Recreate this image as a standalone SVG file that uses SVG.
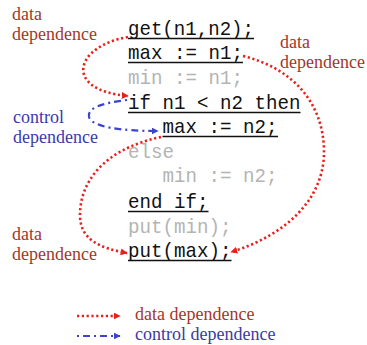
<svg xmlns="http://www.w3.org/2000/svg" width="367" height="345" viewBox="0 0 367 345">
<defs>
<style>
.code{font-family:"Liberation Mono","DejaVu Sans Mono",monospace;font-size:21px;white-space:pre}
.blk{fill:#111}
.gry{fill:#b4b4b4}
.ul{stroke:#111;stroke-width:1.6}
.lbl{font-family:"Liberation Serif","DejaVu Serif",serif;font-size:18px}
.red{fill:#a8342a}
.blu{fill:#3a3aa8}
.dd{fill:none;stroke:#e8201c;stroke-width:2.6;stroke-dasharray:2.2 2.6}
.cd{fill:none;stroke:#3a44cc;stroke-width:2.2;stroke-dasharray:2 4 7 4}
</style>
<marker id="ar" viewBox="0 0 10 10" refX="9" refY="5" markerWidth="7" markerHeight="7" markerUnits="userSpaceOnUse" orient="auto"><path d="M0,0L10,5L0,10z" fill="#e8201c"/></marker>
<marker id="ab" viewBox="0 0 10 10" refX="9" refY="5" markerWidth="7" markerHeight="7" markerUnits="userSpaceOnUse" orient="auto"><path d="M0,0L10,5L0,10z" fill="#3a44cc"/></marker>
</defs>
<rect width="367" height="345" fill="#fff"/>
<g id="code">
<g id="n-get"><text class="code blk" x="128" y="35" textLength="126" lengthAdjust="spacingAndGlyphs">get(n1,n2);</text><line class="ul" x1="128" y1="38.5" x2="254" y2="38.5"/></g>
<g id="n-max1"><text class="code blk" x="128" y="59" textLength="115" lengthAdjust="spacingAndGlyphs">max := n1;</text><line class="ul" x1="128" y1="62.5" x2="243" y2="62.5"/></g>
<g id="n-min1"><text class="code gry" x="128" y="84" textLength="115" lengthAdjust="spacingAndGlyphs">min := n1;</text></g>
<g id="n-if"><text class="code blk" x="128" y="109" textLength="172.5" lengthAdjust="spacingAndGlyphs">if n1 &lt; n2 then</text><line class="ul" x1="128" y1="112.5" x2="300.5" y2="112.5"/></g>
<g id="n-max2"><text class="code blk" x="162.5" y="133" textLength="115" lengthAdjust="spacingAndGlyphs">max := n2;</text><line class="ul" x1="162.5" y1="136.5" x2="278" y2="136.5"/></g>
<g id="n-else"><text class="code gry" x="128" y="158" textLength="46" lengthAdjust="spacingAndGlyphs">else</text></g>
<g id="n-min2"><text class="code gry" x="162.5" y="182" textLength="115" lengthAdjust="spacingAndGlyphs">min := n2;</text></g>
<g id="n-endif"><text class="code blk" x="128" y="208" textLength="80.5" lengthAdjust="spacingAndGlyphs">end if;</text><line class="ul" x1="128" y1="211.5" x2="208.5" y2="211.5"/></g>
<g id="n-putmin"><text class="code gry" x="128" y="232.5" textLength="103.5" lengthAdjust="spacingAndGlyphs">put(min);</text></g>
<g id="n-putmax"><text class="code blk" x="128" y="257" textLength="103.5" lengthAdjust="spacingAndGlyphs">put(max);</text><line class="ul" x1="128" y1="260.5" x2="231.5" y2="260.5"/></g>
</g>
<g id="labels">
<g id="l-data1"><text class="lbl red" x="12" y="20">data</text><text class="lbl red" x="12" y="39.5">dependence</text></g>
<g id="l-data2"><text class="lbl red" x="280" y="48">data</text><text class="lbl red" x="280" y="67.5">dependence</text></g>
<g id="l-ctrl"><text class="lbl blu" x="13" y="123">control</text><text class="lbl blu" x="13" y="142.5">dependence</text></g>
<g id="l-data3"><text class="lbl red" x="12" y="240">data</text><text class="lbl red" x="12" y="259.5">dependence</text></g>
</g>
<g id="connectors">
<path class="dd" d="M128,37 C75,46 62,90 128,96" marker-end="url(#ar)"/>
<path class="dd" d="M243,56 C292,68 323,102 324,150 C325,200 284,236 231,252" marker-end="url(#ar)"/>
<path class="dd" d="M161,137 C100,150 80,185 80,215 C80,240 100,248 127,253" marker-end="url(#ar)"/>
<path class="cd" d="M127,100 C102,103 87,108 89,117 C92,127 120,131 158,131" marker-end="url(#ab)"/>
</g>
<g id="legend">
<path class="dd" d="M77,316 L120,316" marker-end="url(#ar)"/>
<text class="lbl red" x="135" y="320">data dependence</text>
<path class="cd" d="M77,336 L120,336" marker-end="url(#ab)"/>
<text class="lbl blu" x="135" y="340">control dependence</text>
</g>
</svg>
